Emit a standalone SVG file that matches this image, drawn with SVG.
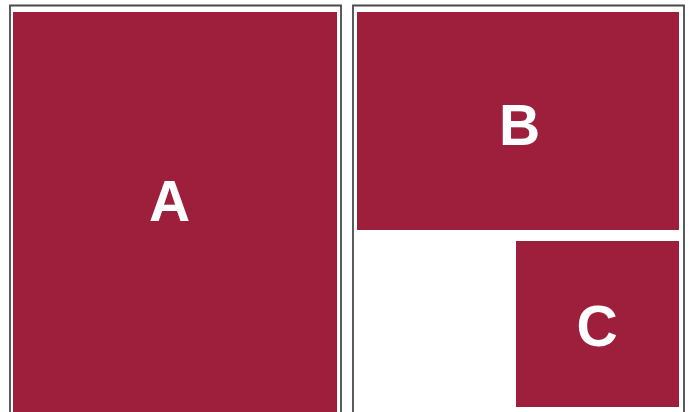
<svg xmlns="http://www.w3.org/2000/svg" width="691" height="412" viewBox="0 0 691 412">
<style>
.frame{fill:none;stroke:#4a4a4a;stroke-width:1.8}
.blk{fill:#9e1f3c}
.lbl{font-family:"Liberation Sans",Arial,sans-serif;font-weight:bold;font-size:57px;fill:#fff;text-anchor:middle}
</style>
<rect width="691" height="412" fill="#fff"/>
<g id="frames">
<path class="frame" d="M10,420 V5.5 H341 V420"/>
<path class="frame" d="M353,420 V5.5 H684 V420"/>
</g>
<g id="A">
<rect class="blk" x="13" y="12" width="324" height="402"/>
<text class="lbl" x="169.5" y="220.5">A</text>
</g>
<g id="B">
<rect class="blk" x="357" y="12" width="322" height="218"/>
<text class="lbl" x="519.5" y="145">B</text>
</g>
<g id="C">
<rect class="blk" x="516" y="241" width="163" height="166"/>
<text class="lbl" x="597" y="346">C</text>
</g>
<g id="connectors"/>
</svg>
